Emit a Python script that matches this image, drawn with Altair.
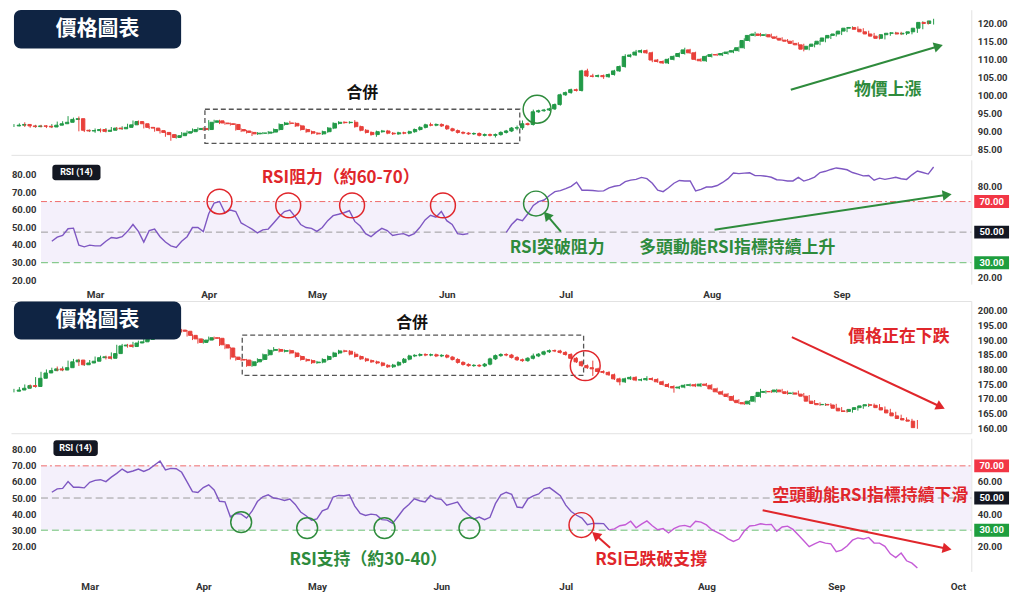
import math
import json
import altair as alt
import pandas as pd

# ---------------- data ----------------
top_close = [
    91.8, 92.0, 91.6, 91.4, 91.6, 91.5, 91.3, 91.8, 92.2, 92.6,
    93.4, 93.6, 90.4, 90.2, 90.3, 90.6, 90.1, 90.4, 91.0, 90.8,
    91.2, 91.9, 92.8, 92.2, 91.2, 91.0, 90.3, 89.8, 89.2, 88.4,
    88.9, 89.6, 90.0, 90.6, 90.9, 90.6, 92.6, 93.0, 92.4, 92.2,
    92.0, 90.6, 90.2, 89.8, 89.4, 89.6, 89.6, 89.9, 90.6, 92.0,
    92.4, 92.3, 91.6, 90.6, 90.0, 89.6, 89.4, 90.0, 91.0, 92.3,
    92.6, 92.5, 92.6, 91.4, 90.4, 89.8, 89.2, 90.0, 90.2, 89.6,
    89.4, 89.7, 89.6, 90.0, 90.6, 91.2, 91.9, 91.8, 92.0, 91.6,
    90.8, 90.3, 89.8, 89.6, 89.4, 89.5, 89.0, 89.2, 89.0, 89.2,
    89.8, 90.2, 91.0, 91.1, 92.2, 92.0, 95.5, 95.8, 96.0, 96.3,
    97.5, 100.2, 100.8, 101.6, 101.4, 106.8, 105.4, 105.3, 105.5, 105.2,
    105.8, 106.8, 108.0, 110.8, 111.2, 112.0, 112.4, 111.8, 109.8, 109.4,
    109.0, 110.0, 110.8, 111.6, 112.6, 111.8, 110.0, 109.6, 110.8, 111.3,
    111.2, 111.6, 112.0, 112.4, 113.2, 115.2, 116.6, 117.0, 116.6, 116.8,
    116.2, 115.8, 115.3, 115.0, 114.4, 114.0, 112.8, 113.6, 114.2, 115.0,
    115.9, 116.6, 117.0, 117.8, 118.6, 118.8, 118.3, 117.6, 117.0, 116.4,
    115.8, 116.8, 117.2, 117.3, 117.0, 117.2, 117.6, 118.6, 120.2, 119.9,
    120.6]
top_first_open = 91.6
top_wick_up = ("1121111121" "3121111211" "1111111112" "1111112111" "1111111111"
               "1211111111" "1112111111" "1111111211" "1111111111" "1112312111"
               "1111112211" "1112121111" "1111211111" "1111121211" "1111111111"
               "1121111111" "1111111211" "2")
top_wick_dn = ("1111111111" "1111121111" "1111111123" "1111111111" "1111211111"
               "1111111111" "1111111211" "1111111111" "1111111112" "1112211111"
               "1111111112" "1111111121" "1111111111" "1111111111" "1111112111"
               "1111111111" "1111111111" "1")

top_rsi = ([None] * 7 + [
    44, 46.7, 47.8,
    52.2, 52.6, 41.5, 40.4, 41.5, 41, 41, 44, 46.5, 46,
    47, 50.5, 55, 50.5, 43.5, 51, 52, 47, 43.5, 41,
    40, 44, 47, 53, 53, 50.3, 62, 69, 70, 62.6,
    64.5, 63.5, 56, 54, 52, 49.5, 51.5, 52, 56, 60,
    63.5, 64.5, 60, 55, 53, 52.5, 50.5, 53, 57.5, 60.8,
    61.7, 62.7, 64, 57, 54, 49, 47, 50, 52.5, 51,
    47.8, 48.5, 49, 47.5, 49, 53, 58, 61, 59.8, 63.5,
    57.5, 55, 49, 48.5, 49] + [None] * 6 + [
    49.9, 55, 58.5, 57.5, 62, 67.5, 70, 71, 74,
    76.5, 77.2, 78.5, 80, 82.7, 77.4, 77.4, 77.2, 76.8, 77,
    79, 80, 80.6, 83, 84, 84.5, 85.8, 85, 82, 77.5,
    76.5, 79, 82, 83.8, 83.5, 83.5, 77, 78, 79.5, 79.5,
    80.5, 82.5, 85, 88.7, 88.3, 88.6, 88.8, 87, 87, 86.6,
    85.9, 84.3, 84, 83.5, 83.5, 85.8, 83.4, 84.5, 86, 89,
    89.8, 91, 92, 91.5, 90.8, 89, 88, 86.8, 87, 84,
    85.3, 84.5, 85.2, 85.9, 84.9, 84.5, 87.5, 90, 89, 88,
    92.6])

bot_close = [
    173.0, 173.6, 174.5, 174.2, 177.0, 178.8, 179.6, 180.2, 179.8, 180.6,
    182.6, 183.2, 181.6, 182.2, 182.8, 184.0, 184.3, 183.8, 185.4, 188.0,
    188.3, 187.8, 189.0, 189.4, 190.2, 190.8, 191.2, 191.8, 192.4, 192.8,
    193.4, 193.0, 191.6, 190.4, 189.2, 190.0, 190.8, 190.6, 188.4, 187.3,
    184.2, 183.4, 183.2, 181.3, 182.6, 183.4, 185.0, 186.5, 186.8, 186.2,
    186.4, 185.6, 184.4, 183.4, 183.0, 182.3, 182.5, 183.4, 184.4, 185.6,
    186.3, 186.2, 185.2, 184.4, 183.6, 183.0, 182.6, 182.2, 181.4, 180.9,
    181.5, 182.4, 183.5, 184.6, 184.8, 185.1, 184.9, 185.0, 184.6, 184.8,
    184.2, 183.4, 182.4, 181.7, 181.3, 181.4, 181.2, 181.8, 183.6, 184.7,
    185.1, 184.9, 184.1, 183.3, 183.0, 183.8, 184.6, 185.2, 186.0, 186.4,
    186.3, 185.8, 185.1, 183.8, 182.6, 181.3, 180.6, 180.2, 179.3, 179.0,
    178.2, 176.8, 175.8, 176.8, 177.3, 176.4, 176.5, 176.9, 176.6, 175.8,
    174.9, 174.2, 173.7, 174.0, 174.6, 174.8, 174.4, 175.0, 174.6, 173.4,
    172.4, 171.6, 170.8, 169.5, 168.7, 168.3, 169.2, 170.8, 172.2, 172.5,
    172.4, 173.0, 172.4, 171.8, 172.0, 171.6, 170.9, 169.2, 168.4, 168.0,
    168.1, 167.9, 166.8, 165.9, 165.7, 166.4, 167.0, 167.6, 168.0, 167.8,
    167.0, 166.2, 165.2, 164.2, 163.3, 162.8, 162.4, 160.2]
bot_first_open = 172.6
bot_wick_up = ("1111111121" "1112111111" "1111121111" "1111111111" "1111111121"
               "1111111111" "1112111111" "1111111111" "1111111111" "1111112111"
               "1111111611" "1111111211" "1111111111" "1111111131" "1111121111"
               "1111111111" "11111111")
bot_wick_dn = ("1111111111" "1111111112" "1111111111" "1111111111" "2111111111"
               "1111111111" "1111111111" "1111111111" "1111111111" "1111111111"
               "1111111611" "1131111111" "1141111111" "1111111111" "1111111111"
               "1111111111" "11111111")

bot_rsi = [None] * 7 + [
    53.6, 55.7, 56,
    60.2, 56.7, 56.7, 56.3, 59.8, 61, 61.4, 60.2, 63, 65.3,
    68, 65.9, 66.8, 68, 66.5, 68, 70.5, 73, 67.5, 68.4,
    68.2, 66, 60, 54, 53.5, 56.5, 58.2, 55, 48, 47.6,
    38.3, 40.4, 40, 37.5, 41.8, 47.8, 50.8, 52, 50, 49.5,
    48.5, 49.4, 46, 41.3, 39, 36.2, 37, 42, 43.4, 50.6,
    51.6, 51.4, 52, 45, 40.5, 39.2, 40, 39.5, 36.6, 36.3,
    34.2, 38.5, 43, 46, 49.5, 48.3, 47.6, 51.6, 49.6, 49.2,
    45.5, 46.5, 47.5, 42.6, 39.6, 36.8, 38.2, 36.5, 38, 46.5,
    52, 53.6, 52.3, 44.4, 44, 49.5, 51.4, 52.5, 55.7, 56.5,
    54, 51.5, 45.6, 41.6, 39.3, 37.5, 33.4, 34.2, 34.2, 34.1,
    30.2, 30.8, 32.8, 33.4, 35.6, 31.5, 33.8, 35.8, 32.8, 30.3,
    31, 28.3, 31, 32.5, 33, 32, 35.6, 35, 33.3, 30.3,
    28.7, 27, 24.6, 23, 24.5, 29.5, 32.6, 33, 34, 33.5,
    33.6, 29.3, 32, 32.5, 30.5, 27, 23.5, 19.8, 21.5, 23,
    22, 21.5, 16.6, 17.6, 20.2, 23.8, 25.2, 24.5, 25.5, 22,
    22, 20, 15.3, 13, 15.8, 11, 9.5, 6.5]
bot_rsi_color_switch = 110

top_month_idx = [15, 36, 56, 80, 102, 129, 153]
top_month_lab = ["Mar", "Apr", "May", "Jun", "Jul", "Aug", "Sep"]
bot_month_idx = [14, 35, 56, 79, 102, 128, 152, 174.5]
bot_month_lab = ["Mar", "Apr", "May", "Jun", "Jul", "Aug", "Sep", "Oct"]

top_price_ticks = [85, 90, 95, 100, 105, 110, 115, 120]
bot_price_ticks = [160, 165, 170, 175, 180, 185, 190, 195, 200]
rsi_left_ticks = [20, 30, 40, 50, 60, 70, 80]
top_rsi_right_ticks = [80, 20]
bot_rsi_right_ticks = [60, 40, 20]
rsi_levels = [70, 50, 30]
rsi_level_labels = ["70.00", "50.00", "30.00"]
rsi_pane_start = 5.0

# annotations (data coordinates: bar index, value)
p1_texts = [("合併", 64.4, 100.75, "#111111", 16), ("物價上漲", 161.5, 101.55, "G", 17)]
p1_circles = [(96.7, 96.2, "G", 28)]
p1_arrows = [(143.6, 101.6, 170.9, 113.6, "G")]
p1_boxes = [(35.3, 93.5, 96.2, 86.8)]
p1_title = (0.0, 30.9, 123.6, 113.0)

r1_texts = [("RSI阻力（約60-70）", 60.4, 85.2, "R", 17),
            ("RSI突破阻力", 100.4, 39.5, "G", 17),
            ("多頭動能RSI指標持續上升", 133.7, 39.5, "G", 17)]
r1_circles = [(38.0, 70.0, "R", 25), (50.7, 67.5, "R", 25), (62.5, 67.5, "R", 25),
              (79.3, 67.5, "R", 25), (96.5, 68.7, "G", 25)]
r1_arrows = [(101.1, 50.3, 98.5, 61.1, "G"), (129.5, 51.6, 172.5, 74.4, "G")]
r1_badge = (7.1, 16.0, 94.1, 84.0)

p2_texts = [("合併", 73.6, 195.7, "#111111", 16), ("價格正在下跌", 163.6, 191.0, "R", 17)]
p2_circles = [(105.6, 181.3, "R", 30)]
p2_arrows = [(143.8, 191.0, 171.3, 167.3, "R")]
p2_boxes = [(42.2, 105.3, 191.7, 178.0)]
p2_title = (0.0, 30.9, 203.1, 190.2)

r2_texts = [("RSI支持（約30-40）", 65.5, 11.7, "G", 17),
            ("RSI已跌破支撐", 117.8, 11.7, "R", 17),
            ("空頭動能RSI指標持續下滑", 158.3, 51.0, "R", 17)]
r2_circles = [(42.0, 35.0, "G", 21), (54.2, 31.3, "G", 21), (68.5, 31.3, "G", 21),
              (84.2, 31.3, "G", 21), (104.9, 33.2, "R", 25)]
r2_arrows = [(110.2, 19.1, 107.5, 27.1, "R"), (138.4, 42.4, 172.5, 18.5, "R")]
r2_badge = (7.3, 15.5, 85.9, 76.1)

# ---------------- styling ----------------
FONT = "Noto Sans CJK TC"
AXFONT = "Roboto"
UP, DN = "#229a48", "#e8403a"
ANN = {"G": "#2e8b3c", "R": "#e0262b"}
PURPLE, MAGENTA = "#7e57c2", "#c45ad6"
LEVEL_COL = ["#ef6b6b", "#9a9a9a", "#6cbf73"]
BADGE_COL = ["#f23645", "#131722", "#1e9e3e"]
W = 966
X_DOM = [-0.55, 176.96]
X_PER_PX = (X_DOM[1] - X_DOM[0]) / W
BADGE_X = [X_DOM[1] + 3 * X_PER_PX, X_DOM[1] + 38 * X_PER_PX]
H_P1, H_R1, H_P2, H_R2 = 146, 125, 133, 134
D_P1 = [83.6, 123.7]
D_R1 = [16.0, 97.3]
D_R1_LEFT = [17.8, 88.3]
D_P2 = [158.3, 203.3]
D_R2 = [4.4, 87.2]


def col(c):
    return ANN.get(c, c)


def xs(field="i", axis=None):
    return alt.X(f"{field}:Q", scale=alt.Scale(domain=X_DOM, nice=False, zero=False),
                 axis=axis, title=None)


def ys(field, dom, axis=None):
    return alt.Y(f"{field}:Q", scale=alt.Scale(domain=dom, nice=False, zero=False),
                 axis=axis, title=None)


def pxx(i):
    return W * (i - X_DOM[0]) / (X_DOM[1] - X_DOM[0])


def pyy(v, dom, H):
    return H * (1 - (v - dom[0]) / (dom[1] - dom[0]))


def right_axis(values):
    return alt.Axis(orient="right", values=values, format=".2f", ticks=False, tickSize=0,
                    grid=False, domain=True, domainColor="#e2e2e2", labelFont=AXFONT,
                    labelFontWeight="bold", labelFontSize=9.5, labelColor="#333333",
                    labelPadding=6, labelOverlap=False)


def left_inside_axis(values):
    return alt.Axis(orient="left", values=values, format=".2f", ticks=False, tickSize=0,
                    grid=False, domain=False, offset=-27, labelPadding=2, labelFont=AXFONT,
                    labelFontWeight="bold", labelFontSize=9.5, labelColor="#333333",
                    labelOverlap=False, zindex=1)


def month_axis(idx, lab, pad):
    expr = "%s[indexof(%s, datum.value)]" % (json.dumps(lab), json.dumps(idx))
    return alt.Axis(values=idx, labelExpr=expr, ticks=False, tickSize=0, domain=False,
                    grid=False, labelFont=AXFONT, labelFontWeight="bold", labelFontSize=10,
                    labelColor="#333333", labelPadding=pad, labelOverlap=False,
                    labelFlush=False)


def line_axis(orient):
    return alt.Axis(orient=orient, labels=False, ticks=False, tickSize=0, grid=False,
                    domain=True, domainColor="#e2e2e2")


def axis_carrier(dom, orient):
    df = pd.DataFrame({"i": [X_DOM[0]], "v": [dom[0]]})
    return alt.Chart(df).mark_point(opacity=0).encode(
        x=xs("i", line_axis(orient)), y=ys("v", dom))


def candle_layers(close, first_open, up, dn, k, dom, tick_values):
    rows = []
    prev = first_open
    for i, c in enumerate(close):
        o = prev
        rows.append({"i": i, "o": o, "c": c,
                     "h": max(o, c) + int(up[i]) * k,
                     "l": min(o, c) - int(dn[i]) * k,
                     "up": c >= o})
        prev = c
    df = pd.DataFrame(rows)
    layers = []
    first = True
    for flag, cc in ((True, UP), (False, DN)):
        sub = df[df.up == flag]
        base = alt.Chart(sub)
        layers.append(base.mark_rule(color=cc, strokeWidth=1).encode(
            x=xs(), y=ys("l", dom, right_axis(tick_values) if first else None), y2="h:Q"))
        layers.append(base.mark_bar(color=cc, size=3.4, stroke=cc, strokeWidth=1).encode(
            x=xs(), y=ys("o", dom), y2="c:Q"))
        first = False
    return layers


def annotation_layers(dom, H, texts=(), circles=(), arrows=(), boxes=(), title=None,
                      badge=None):
    layers = []
    if boxes:
        df = pd.DataFrame([dict(x0=a, x1=b, y0=c, y1=d) for a, b, c, d in boxes])
        layers.append(alt.Chart(df).mark_rect(
            fill="transparent", stroke="#555555", strokeWidth=1.3, strokeDash=[5, 3]).encode(
            x=xs("x0"), x2="x1:Q", y=ys("y0", dom), y2="y1:Q"))
    if circles:
        df = pd.DataFrame([dict(i=i, v=v, col=col(c), sz=d * d) for i, v, c, d in circles])
        layers.append(alt.Chart(df).mark_point(shape="circle", filled=False, strokeWidth=1.5,
                                               opacity=1).encode(
            x=xs(), y=ys("v", dom), color=alt.Color("col:N", scale=None),
            size=alt.Size("sz:Q", scale=None)))
    if arrows:
        rows = []
        for i0, v0, i1, v1, c in arrows:
            ang = math.degrees(math.atan2(pxx(i1) - pxx(i0),
                                          -(pyy(v1, dom, H) - pyy(v0, dom, H)))) % 360
            rows.append(dict(i0=i0, v0=v0, i1=i1, v1=v1, col=col(c), ang=ang))
        df = pd.DataFrame(rows)
        layers.append(alt.Chart(df).mark_rule(strokeWidth=2).encode(
            x=xs("i0"), x2="i1:Q", y=ys("v0", dom), y2="v1:Q",
            color=alt.Color("col:N", scale=None)))
        layers.append(alt.Chart(df).mark_point(shape="triangle-up", filled=True, size=110,
                                               opacity=1).encode(
            x=xs("i1"), y=ys("v1", dom), angle=alt.Angle("ang:Q", scale=None),
            color=alt.Color("col:N", scale=None)))
    if title:
        a, b, c, d = title
        df = pd.DataFrame([dict(x0=a, x1=b, y0=c, y1=d, cx=(a + b) / 2, cy=(c + d) / 2,
                                t="價格圖表")])
        layers.append(alt.Chart(df).mark_rect(color="#0f2443", cornerRadius=7).encode(
            x=xs("x0"), x2="x1:Q", y=ys("y0", dom), y2="y1:Q"))
        layers.append(alt.Chart(df).mark_text(color="white", font=FONT, fontWeight="bold",
                                              fontSize=21).encode(
            x=xs("cx"), y=ys("cy", dom), text="t:N"))
    if badge:
        a, b, c, d = badge
        df = pd.DataFrame([dict(x0=a, x1=b, y0=c, y1=d, cx=(a + b) / 2, cy=(c + d) / 2,
                                t="RSI (14)")])
        layers.append(alt.Chart(df).mark_rect(color="#131722", cornerRadius=3).encode(
            x=xs("x0"), x2="x1:Q", y=ys("y0", dom), y2="y1:Q"))
        layers.append(alt.Chart(df).mark_text(color="white", font=AXFONT, fontWeight="bold",
                                              fontSize=9).encode(
            x=xs("cx"), y=ys("cy", dom), text="t:N"))
    if texts:
        df = pd.DataFrame([dict(t=t, i=i, v=v, col=col(c), fs=fs) for t, i, v, c, fs in texts])
        layers.append(alt.Chart(df).mark_text(font=FONT, fontWeight="bold").encode(
            x=xs(), y=ys("v", dom), text="t:N", color=alt.Color("col:N", scale=None),
            size=alt.Size("fs:Q", scale=None)))
    return layers


def rsi_base_layers(dom, left_dom):
    layers = []
    band = pd.DataFrame([dict(x0=rsi_pane_start, x1=X_DOM[1], y0=rsi_levels[0],
                              y1=rsi_levels[2])])
    layers.append(alt.Chart(band).mark_rect(color="#f4f0fb").encode(
        x=xs("x0"), x2="x1:Q", y=ys("y0", dom), y2="y1:Q"))
    dashes = [[6, 3, 2, 3], [7, 4], [7, 4]]
    for v, c, dsh in zip(rsi_levels, LEVEL_COL, dashes):
        df = pd.DataFrame({"x0": [rsi_pane_start], "x1": [X_DOM[1]], "v": [v]})
        layers.append(alt.Chart(df).mark_rule(color=c, strokeWidth=1, strokeDash=dsh).encode(
            x=xs("x0"), x2="x1:Q", y=ys("v", dom)))
    ticks = pd.DataFrame({"v": rsi_left_ticks, "i": [X_DOM[0]] * len(rsi_left_ticks)})
    layers.append(alt.Chart(ticks).mark_point(opacity=0).encode(
        x=xs("i"), y=ys("v", left_dom, left_inside_axis(rsi_left_ticks))))
    return layers


def rsi_badges(dom, right_ticks):
    df = pd.DataFrame({"v": rsi_levels, "lab": rsi_level_labels, "col": BADGE_COL,
                       "x0": [BADGE_X[0]] * 3, "x1": [BADGE_X[1]] * 3,
                       "xc": [(BADGE_X[0] + BADGE_X[1]) / 2] * 3})
    return [
        alt.Chart(df).mark_rule(strokeWidth=13).encode(
            x=xs("x0"), x2="x1:Q",
            y=ys("v", dom, right_axis(right_ticks)), color=alt.Color("col:N", scale=None)),
        alt.Chart(df).mark_text(color="white", font=AXFONT, fontWeight="bold",
                                fontSize=9.5).encode(
            x=xs("xc"), y=ys("v", dom), text="lab:N"),
    ]


def layered(layers, H):
    return alt.layer(*layers).resolve_scale(x="independent", y="independent").properties(
        width=W, height=H)


# ---------------- top price ----------------
p1_layers = candle_layers(top_close, top_first_open, top_wick_up, top_wick_dn, 0.3, D_P1,
                          top_price_ticks)
p1_layers.append(axis_carrier(D_P1, "bottom"))
p1_layers += annotation_layers(D_P1, H_P1, p1_texts, p1_circles, p1_arrows, p1_boxes,
                               p1_title)
p1 = layered(p1_layers, H_P1)

# ---------------- top RSI ----------------
rows = []
seg = 0
prev_none = False
for i, v in enumerate(top_rsi):
    if v is None:
        prev_none = True
        continue
    if prev_none and rows:
        seg += 1
    prev_none = False
    rows.append(dict(i=i, v=v, seg=seg))
r1_df = pd.DataFrame(rows)
r1_layers = rsi_base_layers(D_R1, D_R1_LEFT)
r1_layers.append(alt.Chart(r1_df).mark_line(color=PURPLE, strokeWidth=1.4).encode(
    x=xs("i", month_axis(top_month_idx, top_month_lab, 5)), y=ys("v", D_R1), detail="seg:N"))
r1_layers += annotation_layers(D_R1, H_R1, r1_texts, r1_circles, r1_arrows, badge=r1_badge)
r1_layers += rsi_badges(D_R1, top_rsi_right_ticks)
r1 = layered(r1_layers, H_R1)

# ---------------- bottom price ----------------
p2_layers = candle_layers(bot_close, bot_first_open, bot_wick_up, bot_wick_dn, 0.4, D_P2,
                          bot_price_ticks)
p2_layers.append(axis_carrier(D_P2, "bottom"))
p2_layers.append(axis_carrier(D_P2, "top"))
p2_layers += annotation_layers(D_P2, H_P2, p2_texts, p2_circles, p2_arrows, p2_boxes,
                               p2_title)
p2 = layered(p2_layers, H_P2)

# ---------------- bottom RSI ----------------
r2_df = pd.DataFrame([dict(i=i, v=v) for i, v in enumerate(bot_rsi) if v is not None])
r2_a = r2_df[r2_df.i <= bot_rsi_color_switch]
r2_b = r2_df[r2_df.i >= bot_rsi_color_switch]
r2_layers = rsi_base_layers(D_R2, D_R2)
r2_layers.append(alt.Chart(r2_a).mark_line(color=PURPLE, strokeWidth=1.4).encode(
    x=xs("i", month_axis(bot_month_idx, bot_month_lab, 10)), y=ys("v", D_R2)))
r2_layers.append(alt.Chart(r2_b).mark_line(color=MAGENTA, strokeWidth=1.4).encode(
    x=xs("i"), y=ys("v", D_R2)))
r2_layers += annotation_layers(D_R2, H_R2, r2_texts, r2_circles, r2_arrows, badge=r2_badge)
r2_layers += rsi_badges(D_R2, bot_rsi_right_ticks)
r2 = layered(r2_layers, H_R2)

chart = alt.vconcat(p1, r1, p2, r2, spacing=2).resolve_scale(
    x="independent", y="independent").properties(
    padding=0, background="white").configure_view(strokeWidth=0)

chart.save("out.html", embed_options={"renderer": "svg", "actions": False})
